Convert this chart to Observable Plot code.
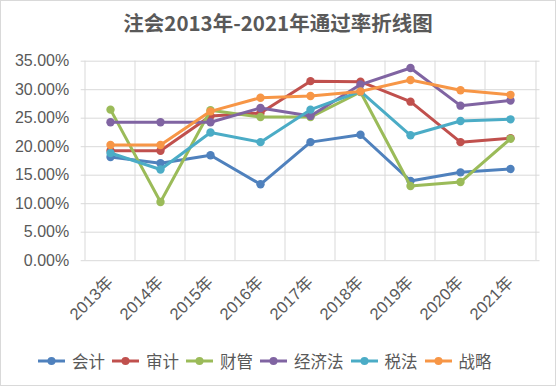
<!DOCTYPE html>
<html><head><meta charset="utf-8">
<script src="https://cdn.jsdelivr.net/npm/d3@7"></script>
<script src="https://cdn.jsdelivr.net/npm/@observablehq/plot@0.6"></script>
<style>
html,body{margin:0;padding:0;background:#fff;}
#wrap{position:relative;width:556px;height:386px;overflow:hidden;background:#fff;font-family:"Liberation Sans","Noto Sans CJK SC",sans-serif;}
#frame{position:absolute;left:0;top:0;width:556px;height:386px;box-sizing:border-box;border:1px solid #d9d9d9;pointer-events:none;}
#title{position:absolute;left:0;right:0;top:8px;text-align:center;font-family:"Noto Sans CJK SC",sans-serif;font-weight:bold;font-size:20.5px;line-height:28px;color:#595959;}
#chart{position:absolute;left:0;top:0;}
#legend{position:absolute;left:38px;top:350px;display:flex;justify-content:flex-start;align-items:center;font-family:"Noto Sans CJK SC",sans-serif;font-size:16.5px;line-height:22px;color:#595959;}
#legend .item{display:flex;align-items:center;margin-right:7px;}
#legend svg{margin-right:7px;}
</style>
</head><body>
<div id="wrap">
  <div id="chart"></div>
  <div id="title">注会2013年-2021年通过率折线图</div>
  <div id="legend"></div>
  <div id="frame"></div>
</div>
<script>
const years = ["2013年","2014年","2015年","2016年","2017年","2018年","2019年","2020年","2021年"];
const subjects = ["会计","审计","财管","经济法","税法","战略"];
const kuaiji   = [18.2, 17.1, 18.5, 13.4, 20.8, 22.1, 14.0, 15.5, 16.1];
const shenji   = [19.3, 19.3, 25.4, 25.9, 31.5, 31.4, 27.9, 20.8, 21.5];
const caiguan  = [26.5, 10.3, 26.4, 25.2, 25.2, 29.6, 13.1, 13.8, 21.4];
const jingjifa = [24.3, 24.3, 24.3, 26.8, 25.4, 30.9, 33.8, 27.2, 28.1];
const shuifa   = [18.9, 16.0, 22.5, 20.8, 26.5, 29.7, 22.0, 24.5, 24.8];
const zhanlue  = [20.3, 20.3, 26.2, 28.6, 28.9, 29.7, 31.7, 29.9, 29.1];
const yTicks = [0, 0.05, 0.10, 0.15, 0.20, 0.25, 0.30, 0.35];
const colors = ["#4F81BD","#C0504D","#9BBB59","#8064A2","#4BACC6","#F79646"];

const series = [kuaiji, shenji, caiguan, jingjifa, shuifa, zhanlue];
const rows = [];
subjects.forEach((s, i) => series[i].forEach((v, j) => rows.push({year: years[j], subject: s, value: v / 100})));

const W = 556, H = 345;
const mL = 80.7, mR = 16.5, mT = 60.7, mB = H - 260.2;
const step = (W - mL - mR) / years.length;

const marks = [
  Plot.ruleY(yTicks, {stroke: "#d9d9d9", strokeWidth: 1}),
  Plot.ruleX(years, {dx: -step / 2, stroke: "#d9d9d9", strokeWidth: 1}),
  Plot.ruleX(years.slice(-1), {dx: step / 2, stroke: "#d9d9d9", strokeWidth: 1}),
  Plot.axisY({ticks: yTicks, tickFormat: d3.format(".2%"), tickSize: 0, tickPadding: 12, fontSize: 16}),
  Plot.axisX({tickRotate: -45, tickSize: 0, tickPadding: 19, fontSize: 16.5})
];
subjects.forEach((s, i) => {
  const data = rows.filter(d => d.subject === s);
  marks.push(Plot.line(data, {x: "year", y: "value", stroke: colors[i], strokeWidth: 3}));
  marks.push(Plot.dot(data, {x: "year", y: "value", fill: colors[i], r: 4.2}));
});

const chart = Plot.plot({
  width: W, height: H,
  marginTop: mT, marginBottom: mB, marginLeft: mL, marginRight: mR,
  x: {type: "point", domain: years, padding: 0.5, label: null},
  y: {domain: [0, 0.35], label: null},
  style: {fontFamily: '"Liberation Sans","Noto Sans CJK SC",sans-serif', fontSize: "16px", color: "#595959", background: "transparent", overflow: "visible"},
  marks
});
document.getElementById("chart").appendChild(chart);

const legend = document.getElementById("legend");
subjects.forEach((s, i) => {
  const item = document.createElement("div");
  item.className = "item";
  item.innerHTML = `<svg width="27" height="10"><line x1="0" y1="5" x2="27" y2="5" stroke="${colors[i]}" stroke-width="3"/><circle cx="13.5" cy="5" r="4" fill="${colors[i]}"/></svg><span>${s}</span>`;
  legend.appendChild(item);
});
</script>
</body></html>
